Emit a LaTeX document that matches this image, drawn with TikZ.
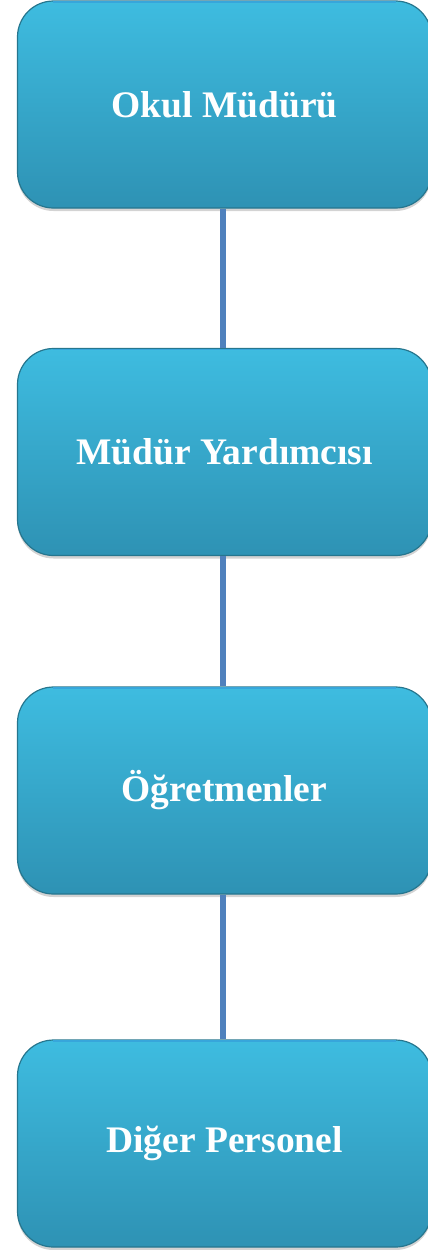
\documentclass[tikz,border=0pt]{standalone}
\usepackage{fontspec}
\setmainfont{Liberation Serif}
\usetikzlibrary{
	backgrounds,
	shadows,
}
\definecolor{kutuust}{RGB}{62,188,224}
\definecolor{kutualt}{RGB}{46,146,180}
\definecolor{kutukenar}{RGB}{38,118,142}
\definecolor{cizgi}{RGB}{79,129,189}

\begin{document}
\begin{tikzpicture}[x=1pt, y=1pt,
	kutu/.style={rounded corners=36pt, draw=kutukenar, line width=1.2pt,
			top color=kutuust, bottom color=kutualt,
			minimum width=414pt, minimum height=207pt, inner sep=0pt,
			drop shadow={opacity=0.35, shadow xshift=0pt, shadow yshift=-3pt},
			text=white, font=\fontsize{37.5}{44}\selectfont\bfseries},
	baglanti/.style={draw=cizgi, line width=5.3pt},
]
	\useasboundingbox (0,0) rectangle (428,-1250);
	\clip (0,0) rectangle (428,-1250);

	% kutular (yukaridan asagi)
	\foreach \ad/\y/\yazi in {mudur/104.5/Okul Müdürü,
			yardimci/452/Müdür Yardımcısı,
			ogretmen/790.5/Öğretmenler,
			personel/1143.5/Diğer Personel} {
			\node[kutu] (\ad) at (224.5,-\y) {\yazi};
		}

	% ust kenardaki parlak cizgi
	\foreach \ad in {mudur,yardimci,ogretmen,personel} {
			\draw[cyan!40!kutuust, line width=1.5pt]
			([xshift=36pt,yshift=-1.4pt]\ad.north west) -- ([xshift=-36pt,yshift=-1.4pt]\ad.north east);
		}

	% baglantilar
	\foreach \a/\b in {mudur/yardimci, yardimci/ogretmen, ogretmen/personel} {
			\draw[baglanti] ([xshift=-1.5pt]\a.south) -- ([xshift=-1.5pt]\b.north);
		}

\end{tikzpicture}
\end{document}
